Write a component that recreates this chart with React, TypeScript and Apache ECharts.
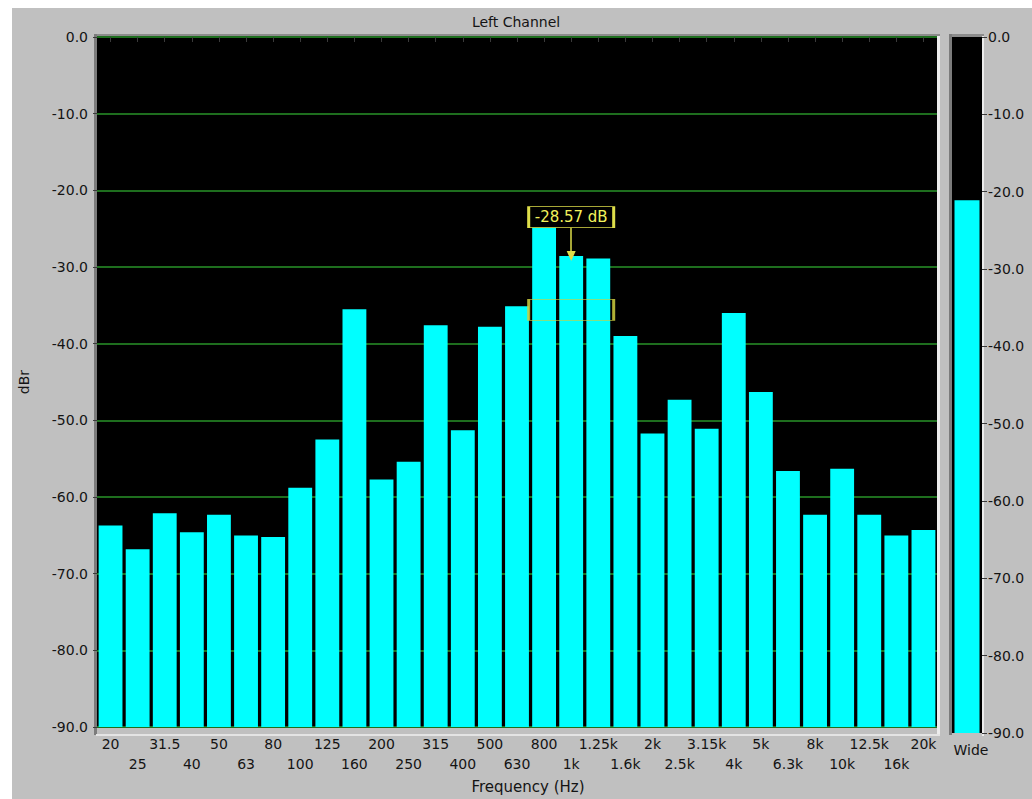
import React, { useEffect, useRef } from 'react';
import * as echarts from 'echarts';

// 1/3-octave band centres (Hz)
const bands = ['20', '25', '31.5', '40', '50', '63', '80', '100', '125', '160', '200', '250', '315', '400', '500', '630', '800', '1k', '1.25k', '1.6k', '2k', '2.5k', '3.15k', '4k', '5k', '6.3k', '8k', '10k', '12.5k', '16k', '20k'];
// level per band (dBr)
const levels = [-63.7, -66.8, -62.1, -64.6, -62.3, -65.0, -65.2, -58.8, -52.5, -35.5, -57.7, -55.4, -37.6, -51.3, -37.8, -35.1, -24.6, -28.57, -28.9, -39.0, -51.7, -47.3, -51.1, -36.0, -46.3, -56.6, -62.3, -56.3, -62.3, -65.0, -64.3];
// wide-band total
const wideCategories = ['Wide'];
const wideLevels = [-21.1];
// axis range
const yMin = -90;
const yMax = 0;
const yStep = 10;
// cursor readout
const cursorBand = '1k';
const cursorValue = -28.57;
const cursorBoxValue = -23.5;
const cursorArrowStart = -24.85;
const cursorGhostValue = -35.6;

const FONT = 'DejaVu Sans';
const TEXT = '#141414';

export default function App() {
  const ref = useRef<HTMLDivElement>(null);
  useEffect(() => {
    document.body.style.margin = '0';
    const chart = echarts.init(ref.current!, null, { renderer: 'svg' });
    const fmt = (v: number) => v.toFixed(1);
    const labelStyle = { fontFamily: FONT, fontSize: 14, color: TEXT };
    chart.setOption({
      animation: false,
      backgroundColor: '#c0c0c0',
      title: {
        text: 'Left Channel',
        left: 'center',
        top: 15,
        padding: 0,
        textStyle: { fontFamily: FONT, fontSize: 14, fontWeight: 'normal', color: TEXT },
      },
      grid: [
        { left: 97, top: 37, width: 840, height: 696, show: true, backgroundColor: '#000', borderWidth: 0 },
        { left: 952, top: 37, width: 30, height: 696, show: true, backgroundColor: '#000', borderWidth: 0 },
      ],
      xAxis: [
        {
          type: 'category',
          gridIndex: 0,
          data: bands,
          name: 'Frequency (Hz)',
          nameLocation: 'middle',
          nameGap: 49,
          nameTextStyle: { fontFamily: FONT, fontSize: 15, color: TEXT, padding: [0, 0, 0, 22] },
          axisLine: { show: false },
          axisTick: { show: true, alignWithLabel: true, length: 5, lineStyle: { color: '#3a3a3a' } },
          axisLabel: {
            ...labelStyle,
            interval: 0,
            margin: 7,
            lineHeight: 20,
            hideOverlap: false,
            formatter: (v: string, i: number) => (i % 2 ? '\n' + v : v),
          },
          splitLine: { show: false },
        },
        {
          type: 'category',
          gridIndex: 1,
          data: wideCategories,
          axisLine: { show: false },
          axisTick: { show: false },
          axisLabel: { ...labelStyle, margin: 7, lineHeight: 20, interval: 0, padding: [0, 0, 0, 8] },
          splitLine: { show: false },
        },
      ],
      yAxis: [
        {
          type: 'value',
          gridIndex: 0,
          min: yMin,
          max: yMax,
          interval: yStep,
          startValue: yMin,
          name: 'dBr',
          nameLocation: 'middle',
          nameGap: 66,
          nameTextStyle: { fontFamily: FONT, fontSize: 14, color: TEXT },
          axisLine: { show: false },
          axisTick: { show: true, length: 4, lineStyle: { color: '#3a3a3a' } },
          axisLabel: { ...labelStyle, margin: 9, formatter: fmt },
          splitLine: { show: true, lineStyle: { color: '#1e6e1e', width: 2 } },
        },
        {
          type: 'value',
          gridIndex: 1,
          position: 'right',
          min: yMin,
          max: yMax,
          interval: yStep,
          startValue: yMin,
          axisLine: { show: false },
          axisTick: { show: true, length: 5, lineStyle: { color: '#3a3a3a' } },
          axisLabel: { ...labelStyle, margin: 6, formatter: fmt },
          splitLine: { show: false },
        },
      ],
      series: [
        {
          type: 'bar',
          xAxisIndex: 0,
          yAxisIndex: 0,
          data: levels,
          barCategoryGap: '12%',
          itemStyle: { color: '#00ffff' },
          markPoint: {
            silent: true,
            data: [
              {
                coord: [cursorBand, cursorBoxValue],
                symbol: 'rect',
                symbolSize: [85, 21],
                itemStyle: { color: '#000', borderColor: '#dede4a', borderWidth: 1.5 },
                label: {
                  show: true,
                  position: 'inside',
                  formatter: `${cursorValue.toFixed(2)} dB`,
                  color: '#f2f25c',
                  fontSize: 15,
                  fontFamily: FONT,
                },
              },
              {
                coord: [cursorBand, cursorGhostValue],
                symbol: 'rect',
                symbolSize: [85, 21],
                itemStyle: { color: 'rgba(0,0,0,0)', borderColor: '#cfcf40', borderWidth: 1.5, opacity: 0.85 },
                label: { show: false },
              },
            ],
          },
          markLine: {
            silent: true,
            symbol: ['none', 'triangle'],
            symbolSize: [9, 10],
            lineStyle: { color: '#dede4a', width: 1.5, type: 'solid' },
            label: { show: false },
            data: [[{ coord: [cursorBand, cursorArrowStart] }, { coord: [cursorBand, cursorValue] }]],
          },
        },
        {
          type: 'bar',
          xAxisIndex: 1,
          yAxisIndex: 1,
          data: wideLevels,
          barWidth: 25,
          itemStyle: { color: '#00ffff' },
        },
      ],
      graphic: [
        { type: 'rect', silent: true, shape: { x: 0, y: 0, width: 1032, height: 8 }, style: { fill: '#ffffff' } },
        { type: 'rect', silent: true, shape: { x: 0, y: 0, width: 12, height: 799 }, style: { fill: '#ffffff' } },
        // main plot bevel
        { type: 'rect', silent: true, shape: { x: 94, y: 34, width: 846, height: 3 }, style: { fill: '#8c8c8c' } },
        { type: 'rect', silent: true, shape: { x: 94, y: 34, width: 3, height: 701 }, style: { fill: '#7c7c7c' } },
        { type: 'rect', silent: true, shape: { x: 937, y: 36, width: 3, height: 700 }, style: { fill: '#ececec' } },
        { type: 'rect', silent: true, shape: { x: 96, y: 734, width: 844, height: 2 }, style: { fill: '#e4e4e4' } },
        // wide panel bevel
        { type: 'rect', silent: true, shape: { x: 949, y: 34, width: 35, height: 3 }, style: { fill: '#8c8c8c' } },
        { type: 'rect', silent: true, shape: { x: 949, y: 34, width: 3, height: 701 }, style: { fill: '#7c7c7c' } },
        { type: 'rect', silent: true, shape: { x: 982, y: 36, width: 2, height: 700 }, style: { fill: '#ececec' } },
      ],
    });
    return () => chart.dispose();
  }, []);
  return <div ref={ref} style={{ width: 1032, height: 799 }} />;
}
